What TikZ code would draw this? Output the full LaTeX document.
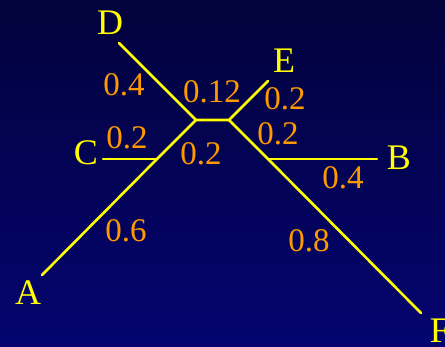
\documentclass[tikz,border=0pt]{standalone}
\usepackage{fontspec}
\setmainfont{Liberation Serif}
\definecolor{treeyellow}{RGB}{255,255,0}
\definecolor{weightorange}{RGB}{255,153,0}
\definecolor{skytop}{RGB}{2,2,60}
\definecolor{skybottom}{RGB}{4,4,112}
\begin{document}
\begin{tikzpicture}[x=1pt,y=-1pt,
    branch/.style={draw=treeyellow,line width=2.6pt,line cap=round},
    leaf/.style={text=treeyellow,inner sep=0pt,font=\fontsize{36}{36}\selectfont},
    weight/.style={text=weightorange,inner sep=0pt,font=\fontsize{33}{33}\selectfont}]
    % Background
    \shade[top color=skytop,bottom color=skybottom] (0,0) rectangle (445,346);
    \useasboundingbox (0,0) rectangle (445,346);

    % Leaves, inner nodes and junctions
    \coordinate (A) at (42,275);
    \coordinate (B) at (377,159);
    \coordinate (C) at (103,159);
    \coordinate (D) at (119,43);
    \coordinate (E) at (268,81);
    \coordinate (F) at (421,313);
    \coordinate (u) at (196,120);
    \coordinate (v) at (229,120);
    \coordinate (jc) at (157,159);
    \coordinate (jb) at (268,159);

    % Branches
    \draw[branch] (A) -- (jc) -- (u);
    \draw[branch] (C) -- (jc);
    \draw[branch] (D) -- (u) -- (v) -- (E);
    \draw[branch] (v) -- (jb) -- (F);
    \draw[branch] (jb) -- (B);

    % Leaf names
    \node[leaf] (nameA) at (28,293) {A};
    \node[leaf] (nameB) at (399,158) {B};
    \node[leaf] (nameC) at (86,153) {C};
    \node[leaf] (nameD) at (110,23) {D};
    \node[leaf] (nameE) at (284,61) {E};
    \node[leaf] (nameF) at (440,331) {F};

    % Branch lengths
    \node[weight] (wD) at (124,85) {0.4};
    \node[weight] (wuv) at (212,92) {0.12};
    \node[weight] (wE) at (285,99) {0.2};
    \node[weight] (wC) at (127,138) {0.2};
    \node[weight] (wu) at (201,154) {0.2};
    \node[weight] (wv) at (278,134) {0.2};
    \node[weight] (wB) at (343,178) {0.4};
    \node[weight] (wA) at (126,231) {0.6};
    \node[weight] (wF) at (309,241) {0.8};
\end{tikzpicture}
\end{document}
